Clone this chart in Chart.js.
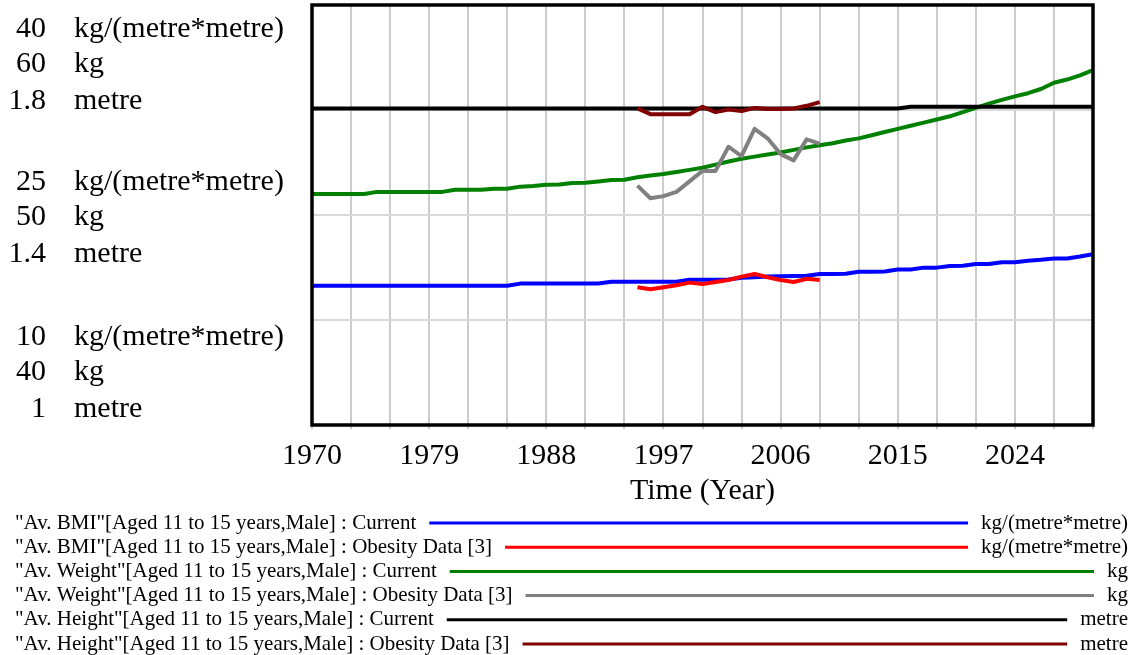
<!DOCTYPE html>
<html><head><meta charset="utf-8">
<script src="https://cdn.jsdelivr.net/npm/chart.js@4"></script>
<style>html,body{margin:0;padding:0;background:#fff}#wrap{width:1137px;height:655px;position:relative}</style>
</head><body><div id="wrap"><canvas id="c" width="1137" height="655"></canvas></div>
<script>
const years = [1970,1971,1972,1973,1974,1975,1976,1977,1978,1979,1980,1981,1982,1983,1984,1985,1986,1987,1988,1989,1990,1991,1992,1993,1994,1995,1996,1997,1998,1999,2000,2001,2002,2003,2004,2005,2006,2007,2008,2009,2010,2011,2012,2013,2014,2015,2016,2017,2018,2019,2020,2021,2022,2023,2024,2025,2026,2027,2028,2029,2030];
const dataYears = [1995,1996,1997,1998,1999,2000,2001,2002,2003,2004,2005,2006,2007,2008,2009];

const bmiCurrent = [19.95,19.95,19.95,19.95,19.95,19.95,19.95,19.95,19.95,19.95,19.95,19.95,19.95,19.95,19.95,19.95,
  20.1,20.1,20.1,20.1,20.1,20.1,20.1,
  20.23,20.23,20.23,20.23,20.23,20.23,
  20.37,20.37,20.37,20.4,
  20.52,20.55,20.6,20.63,20.64,20.66,20.78,20.79,20.8,20.95,20.95,20.96,21.1,21.1,21.24,21.24,21.36,21.37,21.5,21.5,21.62,21.63,21.74,21.8,21.9,21.9,22.03,22.19];
const bmiData = [19.84,19.69,19.84,19.98,20.17,20.07,20.21,20.36,20.6,20.79,20.55,20.36,20.21,20.45,20.36];

const weightCurrent = [51.0,51.0,51.0,51.0,51.0,
  51.1,51.1,51.1,51.1,51.1,51.1,
  51.2,51.2,51.2,51.25,51.25,
  51.35,51.38,51.44,51.45,51.52,51.54,51.6,51.67,51.68,
  51.8,51.88,51.95,52.05,52.15,52.25,52.4,52.55,52.68,52.78,52.88,52.98,53.1,53.22,53.32,53.42,53.55,53.65,53.8,53.95,54.1,54.25,54.4,54.55,54.7,54.9,55.1,55.3,55.48,55.65,55.8,56.0,56.3,56.45,56.65,56.9];
const weightData = [51.4,50.8,50.9,51.1,51.6,52.1,52.1,53.25,52.8,54.1,53.65,52.9,52.6,53.6,53.4];

const heightCurrent = [1.603,1.603,1.603,1.603,1.603,1.603,1.603,1.603,1.603,1.603,1.603,1.603,1.603,1.603,1.603,1.603,1.603,1.603,1.603,1.603,1.603,1.603,1.603,1.603,1.603,1.603,1.603,1.603,1.603,1.603,1.603,1.603,1.603,1.603,1.603,1.603,1.603,1.603,1.603,1.603,1.603,1.603,1.603,1.603,1.603,1.603,
  1.606,1.606,1.606,1.606,1.606,1.606,1.606,1.606,1.606,1.606,1.606,1.606,1.606,1.606,1.606];
const heightData = [1.603,1.592,1.592,1.592,1.592,1.606,1.596,1.601,1.598,1.604,1.602,1.602,1.603,1.608,1.615];

const xTickLabels = [1970,1979,1988,1997,2006,2015,2024];
const bmiTickValues = [10,25,40];
const bmiTickLabels = ['10','25','40'];
const weightTickLabels = ['40','50','60'];
const heightTickLabels = ['1','1.4','1.8'];
const units = ['kg/(metre*metre)','kg','metre'];

const seriesNames = [
  '"Av. BMI"[Aged 11 to 15 years,Male] : Current',
  '"Av. BMI"[Aged 11 to 15 years,Male] : Obesity Data [3]',
  '"Av. Weight"[Aged 11 to 15 years,Male] : Current',
  '"Av. Weight"[Aged 11 to 15 years,Male] : Obesity Data [3]',
  '"Av. Height"[Aged 11 to 15 years,Male] : Current',
  '"Av. Height"[Aged 11 to 15 years,Male] : Obesity Data [3]'
];
const seriesUnits = ['kg/(metre*metre)','kg/(metre*metre)','kg','kg','metre','metre'];
const seriesColors = ['#0000ff','#ff0000','#008000','#808080','#000000','#800000'];

const SERIF = "'Liberation Serif','Times New Roman',serif";

function pts(xs, ys){ return xs.map((x,i)=>({x:x, y:ys[i]})); }

const seriesValues = [pts(years,bmiCurrent), pts(dataYears,bmiData), pts(years,weightCurrent), pts(dataYears,weightData), pts(years,heightCurrent), pts(dataYears,heightData)];
const seriesAxes = ['yB','yB','yW','yW','yH','yH'];

const datasets = seriesNames.map((n,i)=>({
  label:n, data:seriesValues[i], yAxisID:seriesAxes[i],
  borderColor:seriesColors[i], backgroundColor:seriesColors[i],
  borderWidth:4, pointRadius:0, tension:0, fill:false, order:6-i,
  borderJoinStyle:'round', borderCapStyle:'butt'
}));

const framePlugin = {
  id:'frame',
  afterDatasetsDraw(chart){
    const {ctx, chartArea:a} = chart;
    ctx.save();
    ctx.strokeStyle='#000'; ctx.lineWidth=3.5;
    ctx.strokeRect(a.left, a.top, a.right-a.left, a.bottom-a.top);
    ctx.restore();
  }
};

const axisLabelPlugin = {
  id:'axisLabels',
  afterDraw(chart){
    const {ctx, chartArea:a} = chart;
    const yB = chart.scales.yB;
    const offs = [-35,0,37];
    ctx.save();
    ctx.font = '30px '+SERIF;
    ctx.fillStyle='#000';
    ctx.textBaseline='middle';
    bmiTickValues.forEach((v,i)=>{
      let yc = yB.getPixelForValue(v);
      yc = Math.min(Math.max(yc, a.top+57), a.bottom-55) + 2;
      const nums = [bmiTickLabels[i], weightTickLabels[i], heightTickLabels[i]];
      nums.forEach((t,j)=>{
        ctx.textAlign='right';
        ctx.fillText(t, 46, yc+offs[j]);
        ctx.textAlign='left';
        ctx.fillText(units[j], 74, yc+offs[j]);
      });
    });
    ctx.restore();
  }
};

const legendPlugin = {
  id:'vlegend',
  afterDraw(chart){
    const ctx = chart.ctx;
    ctx.save();
    ctx.font = '21px '+SERIF;
    ctx.textBaseline='middle';
    seriesNames.forEach((n,i)=>{
      const y = 523 + i*24.2;
      ctx.fillStyle='#000';
      ctx.textAlign='left';
      ctx.fillText(n, 15, y);
      const tw = ctx.measureText(n).width;
      ctx.textAlign='right';
      ctx.fillText(seriesUnits[i], 1128, y);
      const uw = ctx.measureText(seriesUnits[i]).width;
      ctx.strokeStyle = seriesColors[i];
      ctx.lineWidth = 3;
      ctx.beginPath();
      ctx.moveTo(15+tw+13, y);
      ctx.lineTo(1128-uw-13, y);
      ctx.stroke();
    });
    ctx.restore();
  }
};

new Chart(document.getElementById('c').getContext('2d'), {
  type:'line',
  data:{datasets:datasets},
  options:{
    responsive:false, animation:false, devicePixelRatio:1,
    layout:{padding:{left:312, right:44, top:5, bottom:0}},
    plugins:{legend:{display:false}, tooltip:{enabled:false}},
    scales:{
      x:{type:'linear', min:1970, max:2030,
        ticks:{stepSize:3, autoSkip:false, maxRotation:0, padding:9, color:'#000',
          font:{family:SERIF, size:30},
          callback:(v)=> xTickLabels.includes(v) ? String(v) : ''},
        grid:{color:'#cccccc', lineWidth:2, tickLength:4},
        border:{display:false},
        title:{display:true, text:'Time (Year)', color:'#000', font:{family:SERIF, size:30}, padding:{top:0,bottom:146}},
        afterFit:(s)=>{ s.height = 230; }
      },
      yB:{type:'linear', position:'left', min:10, max:40,
        ticks:{display:false, stepSize:7.5},
        grid:{color:'#d9d9d9', lineWidth:2, drawTicks:false},
        border:{display:false},
        afterFit:(s)=>{ s.width = 0; }
      },
      yW:{type:'linear', display:false, min:40, max:60},
      yH:{type:'linear', display:false, min:1, max:1.8}
    }
  },
  plugins:[framePlugin, axisLabelPlugin, legendPlugin]
});
</script>
</body></html>
